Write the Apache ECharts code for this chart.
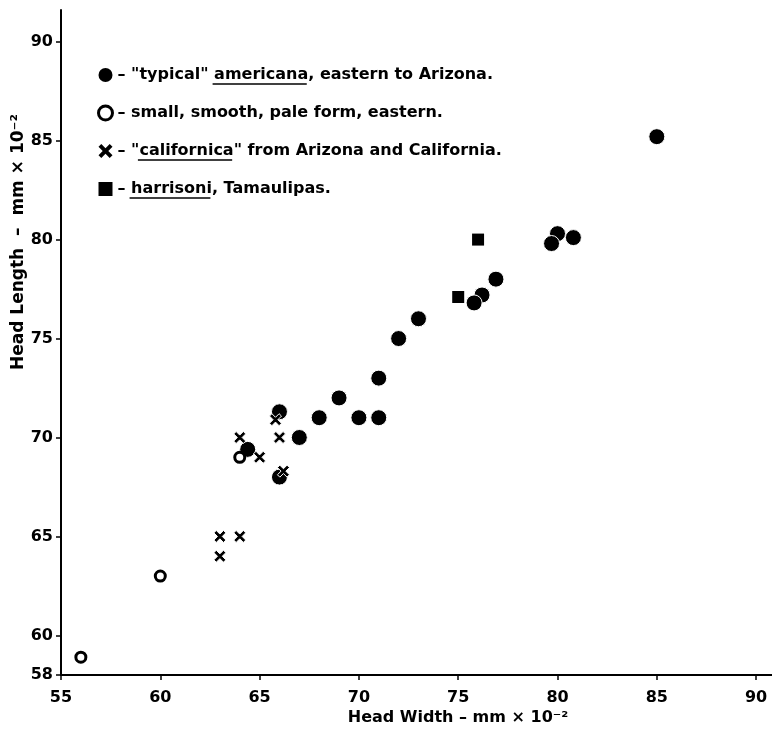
<!DOCTYPE html>
<html>
<head>
<meta charset="utf-8">
<script src="https://cdn.jsdelivr.net/npm/echarts@6/dist/echarts.min.js"></script>
<style>
  html, body { margin: 0; padding: 0; background: #fff; }
  #main { width: 772px; height: 730px; }
</style>
</head>
<body>
<div id="main"></div>
<script>
// 数据：头宽 / 头长 (mm x 10^-2)
const typicalAmericana = [
  [85, 85.2], [80, 80.3], [79.7, 79.8], [80.8, 80.1], [76.9, 78], [76.2, 77.2],
  [75.8, 76.8], [73, 76], [72, 75], [71, 73], [69, 72], [68, 71], [70, 71],
  [71, 71], [66, 71.3], [67, 70], [64.4, 69.4], [66, 68]
]
const smallPale = [[56, 58.9], [60, 63], [64, 69]]
const californica = [
  [65.8, 70.9], [66, 70], [64, 70], [65, 69], [66.2, 68.3], [63, 65], [64, 65], [63, 64]
]
const harrisoni = [[76, 80], [75, 77.1]]

const xTicks = [55, 60, 65, 70, 75, 80, 85, 90]
const yTicks = [58, 60, 65, 70, 75, 80, 85, 90]

const legendTexts = [
  '\u2013 "typical" americana, eastern to Arizona.',
  '\u2013 small, smooth, pale form, eastern.',
  '\u2013 "californica" from Arizona and California.',
  '\u2013 harrisoni, Tamaulipas.'
]
// 需要加下划线的词
const underlined = ['americana', 'californica', 'harrisoni']

const textFont = 'DejaVu Sans'
const crossPath = 'path://M2,0 L5,3 L8,0 L10,2 L7,5 L10,8 L8,10 L5,7 L2,10 L0,8 L3,5 L0,2 Z'

// 图例位置
const legendLeft = 97
const legendTop = 66
const rowHeight = 18
const rowGap = 20
const legendFont = 16
const legendFontStr = 'bold ' + legendFont + 'px "' + textFont + '"'

function draw () {
  // 计算下划线位置
  const ctx = document.createElement('canvas').getContext('2d')
  ctx.font = legendFontStr
  const textX = legendLeft + 14 + 5
  const underlines = []
  legendTexts.forEach((t, i) => {
    underlined.forEach(w => {
      const idx = t.indexOf(w)
      if (idx < 0) return
      const x0 = textX + ctx.measureText(t.slice(0, idx)).width
      const x1 = x0 + ctx.measureText(w).width
      const y = legendTop + rowHeight / 2 + i * (rowHeight + rowGap) + 9
      underlines.push({
        type: 'line',
        shape: { x1: x0, y1: y, x2: x1, y2: y },
        style: { stroke: '#000', lineWidth: 1.5 }
      })
    })
  })

  const myChart = echarts.init(document.getElementById('main'))

  const option = {
    backgroundColor: '#fff',
    animation: false,
    grid: { left: 61, right: 0, top: 10, bottom: 55 },
    legend: {
      orient: 'vertical',
      left: legendLeft,
      top: legendTop,
      padding: 0,
      itemWidth: 14,
      itemHeight: 14,
      itemGap: rowGap,
      selectedMode: false,
      textStyle: {
        fontFamily: textFont,
        fontSize: legendFont,
        fontWeight: 'bold',
        color: '#000',
        lineHeight: rowHeight
      },
      data: [
        { name: legendTexts[0], icon: 'circle', itemStyle: { color: '#000', borderWidth: 0 } },
        { name: legendTexts[1], icon: 'circle', itemStyle: { color: '#fff', borderColor: '#000', borderWidth: 3 } },
        { name: legendTexts[2], icon: crossPath, itemStyle: { color: '#000', borderWidth: 0 } },
        { name: legendTexts[3], icon: 'rect', itemStyle: { color: '#000', borderWidth: 0 } }
      ]
    },
    xAxis: {
      type: 'value',
      min: 55,
      max: 90.8,
      splitLine: { show: false },
      axisLine: { show: true, onZero: false, lineStyle: { color: '#000', width: 2 } },
      axisTick: { show: true, length: 5, customValues: xTicks, lineStyle: { color: '#000', width: 1.5 } },
      axisLabel: {
        customValues: xTicks,
        margin: 15,
        fontFamily: textFont,
        fontSize: 16,
        fontWeight: 'bold',
        color: '#000'
      }
    },
    yAxis: {
      type: 'value',
      min: 58,
      max: 91.6,
      splitLine: { show: false },
      axisLine: { show: true, onZero: false, lineStyle: { color: '#000', width: 2 } },
      axisTick: { show: true, length: 5, customValues: yTicks, lineStyle: { color: '#000', width: 1.5 } },
      axisLabel: {
        customValues: yTicks,
        margin: 8,
        fontFamily: textFont,
        fontSize: 16,
        fontWeight: 'bold',
        color: '#000'
      }
    },
    graphic: [
      {
        type: 'text',
        x: 458,
        y: 718,
        style: {
          text: 'Head Width \u2013 mm \u00d7 10\u207b\u00b2',
          font: 'bold 16px "' + textFont + '"',
          fill: '#000',
          align: 'center',
          verticalAlign: 'middle'
        }
      },
      {
        type: 'text',
        x: 19,
        y: 242,
        rotation: Math.PI / 2,
        style: {
          text: 'Head Length  \u2013  mm \u00d7 10\u207b\u00b2',
          font: 'bold 17px "' + textFont + '"',
          fill: '#000',
          align: 'center',
          verticalAlign: 'middle'
        }
      }
    ].concat(underlines),
    series: [
      {
        name: legendTexts[0],
        type: 'scatter',
        symbol: 'circle',
        symbolSize: 16,
        data: typicalAmericana,
        itemStyle: { color: '#000', borderColor: '#fff', borderWidth: 1, opacity: 1 }
      },
      {
        name: legendTexts[1],
        type: 'scatter',
        symbol: 'circle',
        symbolSize: 10,
        data: smallPale,
        itemStyle: { color: '#fff', borderColor: '#000', borderWidth: 3, opacity: 1 }
      },
      {
        name: legendTexts[2],
        type: 'scatter',
        symbol: crossPath,
        symbolSize: 12,
        data: californica,
        itemStyle: { color: '#000', borderColor: '#fff', borderWidth: 1, opacity: 1 }
      },
      {
        name: legendTexts[3],
        type: 'scatter',
        symbol: 'rect',
        symbolSize: 12,
        data: harrisoni,
        itemStyle: { color: '#000', opacity: 1 }
      }
    ]
  }

  myChart.setOption(option)
}

// 等字体就绪后再绘制，保证测量与渲染一致
document.fonts.load(legendFontStr, 'Aa').then(draw, draw)
</script>
</body>
</html>
